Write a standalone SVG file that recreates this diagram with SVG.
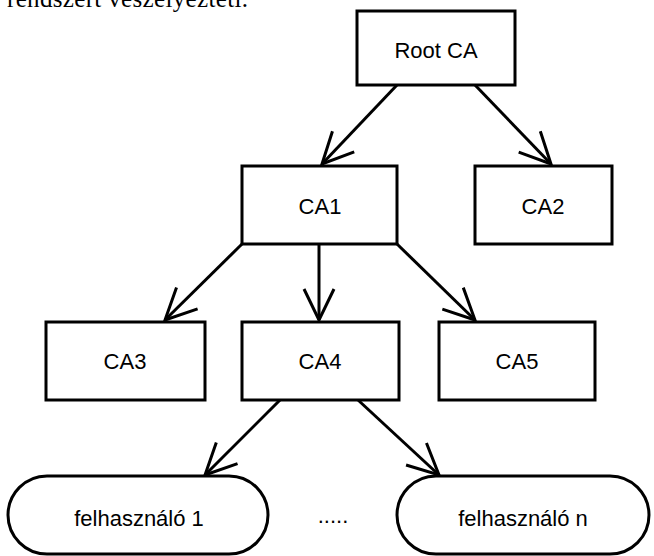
<svg xmlns="http://www.w3.org/2000/svg" width="654" height="556" viewBox="0 0 654 556">
<style>
.box{fill:#fff;stroke:#000;stroke-width:3}
.lbl{font-family:"Liberation Sans",Arial,sans-serif;font-size:22px;text-anchor:middle;fill:#000}
.edge{stroke:#000;stroke-width:3;fill:none;marker-end:url(#arr)}
</style>
<defs>
<marker id="arr" markerUnits="userSpaceOnUse" orient="auto" viewBox="-36 -20 40 40" refX="0" refY="0" markerWidth="40" markerHeight="40" overflow="visible">
<path d="M-31,-15 L0,0 L-31,15" fill="none" stroke="#000" stroke-width="3"/>
</marker>
</defs>
<rect width="654" height="556" fill="#fff"/>
<text x="7" y="7" font-family="'Liberation Serif','Times New Roman',serif" font-size="25" textLength="241" fill="#000">rendszert veszélyezteti.</text>
<g id="connectors">
<line class="edge" x1="397" y1="85" x2="322" y2="164"/>
<line class="edge" x1="475" y1="85" x2="551" y2="164"/>
<line class="edge" x1="242" y1="244" x2="165" y2="320"/>
<line class="edge" x1="319" y1="244" x2="319" y2="320"/>
<line class="edge" x1="397" y1="244" x2="475" y2="320"/>
<line class="edge" x1="280" y1="400" x2="205" y2="475"/>
<line class="edge" x1="358" y1="400" x2="439" y2="475"/>
</g>
<g id="rootca"><rect class="box" x="357" y="11" width="158" height="74"/><text class="lbl" x="436" y="58">Root CA</text></g>
<g id="ca1"><rect class="box" x="242" y="166" width="155" height="78"/><text class="lbl" x="320" y="214">CA1</text></g>
<g id="ca2"><rect class="box" x="475" y="166" width="137" height="78"/><text class="lbl" x="543" y="214">CA2</text></g>
<g id="ca3"><rect class="box" x="46" y="322" width="159" height="78"/><text class="lbl" x="125" y="369">CA3</text></g>
<g id="ca4"><rect class="box" x="242" y="322" width="157" height="78"/><text class="lbl" x="320" y="369">CA4</text></g>
<g id="ca5"><rect class="box" x="439" y="322" width="156" height="78"/><text class="lbl" x="517" y="369">CA5</text></g>
<g id="user1"><rect class="box" x="8" y="476" width="260" height="78" rx="39" ry="39"/><text class="lbl" x="139" y="526">felhasználó 1</text></g>
<g id="dots"><text class="lbl" x="333" y="523">.....</text></g>
<g id="usern"><rect class="box" x="397" y="476" width="252" height="78" rx="39" ry="39"/><text class="lbl" x="523" y="526">felhasználó n</text></g>
</svg>
